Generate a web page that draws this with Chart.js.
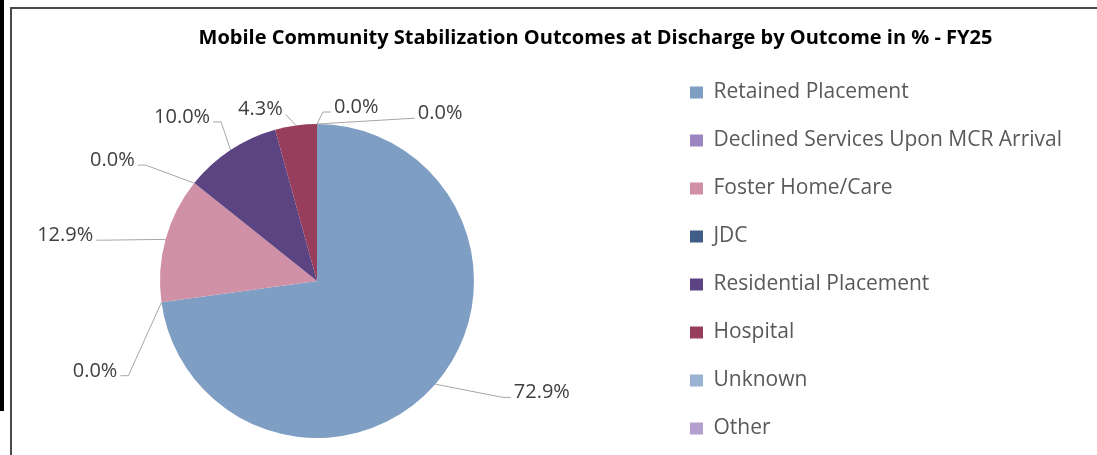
<!DOCTYPE html>
<html>
<head>
<meta charset="utf-8">
<script src="https://cdn.jsdelivr.net/npm/chart.js@4.4.1/dist/chart.umd.min.js"></script>
<style>
  html, body { margin: 0; padding: 0; background: #fff; overflow: hidden; }
  body { width: 1097px; height: 455px; position: relative; }
  #bar { position: absolute; left: 0; top: 0; width: 4px; height: 411px; background: #000; }
  #frame { position: absolute; left: 10px; top: 7px; width: 1200px; height: 500px;
           border-top: 2px solid #4a4a4a; border-left: 2px solid #4a4a4a; }
  #outcomeChart { position: absolute; left: 12px; top: 10px; }
</style>
</head>
<body>
<div id="bar"></div>
<div id="frame"></div>
<canvas id="outcomeChart" width="1200" height="480"></canvas>
<script>
// FY25 discharge outcomes, percent of episodes
const categories = [
    'Retained Placement',
    'Declined Services Upon MCR Arrival',
    'Foster Home/Care',
    'JDC',
    'Residential Placement',
    'Hospital',
    'Unknown',
    'Other'
];
const percentValues = [72.9, 0.0, 12.9, 0.0, 10.0, 4.3, 0.0, 0.0];
const sliceColors = ['#7f9ec3', '#9c86c2', '#d091a6', '#3f5d87', '#5c4482', '#973e5c', '#9ab2d2', '#b3a0cf'];

// where each leader line ends: angle nudge (deg) from the slice middle, distance in radii
const labelPlacement = [
    { shift: -10.1, dist: 1.44 },
    { shift: -17.9, dist: 1.39 },
    { shift: -4.9, dist: 1.43 },
    { shift: -5.7, dist: 1.36 },
    { shift: 0.3, dist: 1.21 },
    { shift: -2.9, dist: 1.08, elbow: 0 },
    { shift: 4.7, dist: 1.08 },
    { shift: 31, dist: 1.21, elbow: 0 }
];

// keep the pie in the left part of the frame, legend on the right
const pieArea = {
    id: 'pieArea',
    afterLayout(chart, args, opts) {
        const a = chart.chartArea;
        a.left = opts.left;
        a.top = opts.top;
        a.right = opts.left + opts.size;
        a.bottom = opts.top + opts.size;
        a.width = opts.size;
        a.height = opts.size;
    }
};

const leaderLabels = {
    id: 'leaderLabels',
    afterDatasetsDraw(chart, args, opts) {
        const ctx = chart.ctx;
        const arcs = chart.getDatasetMeta(0).data;
        ctx.save();
        ctx.font = opts.font;
        ctx.lineWidth = 1;
        ctx.strokeStyle = opts.lineColor;
        ctx.fillStyle = opts.color;
        arcs.forEach((arc, i) => {
            const { x, y, startAngle, endAngle, outerRadius } =
                arc.getProps(['x', 'y', 'startAngle', 'endAngle', 'outerRadius'], true);
            const mid = (startAngle + endAngle) / 2;
            const p = labelPlacement[i];
            const ang = mid + p.shift * Math.PI / 180;
            const ax = x + Math.cos(mid) * outerRadius;
            const ay = y + Math.sin(mid) * outerRadius;
            const ex = x + Math.cos(ang) * outerRadius * p.dist;
            const ey = y + Math.sin(ang) * outerRadius * p.dist;
            const right = ex >= x;
            const elbow = p.elbow !== undefined ? p.elbow : opts.elbow;
            const bx = right ? ex - elbow : ex + elbow;

            ctx.beginPath();
            ctx.moveTo(ax, ay);
            ctx.lineTo(bx, ey);
            ctx.lineTo(ex, ey);
            ctx.stroke();

            ctx.textAlign = right ? 'left' : 'right';
            ctx.textBaseline = 'alphabetic';
            ctx.fillText(percentValues[i].toFixed(1) + '%', right ? ex + 3 : ex - 3, ey + 1);
        });
        ctx.restore();
    }
};

const ctx = document.getElementById('outcomeChart').getContext('2d');

new Chart(ctx, {
    type: 'pie',
    data: {
        labels: categories,
        datasets: [{
            data: percentValues,
            backgroundColor: sliceColors,
            borderWidth: 0
        }]
    },
    options: {
        responsive: false,
        animation: false,
        layout: {
            padding: { left: 107, right: 140, top: 0, bottom: 0 }
        },
        plugins: {
            title: {
                display: true,
                text: 'Mobile Community Stabilization Outcomes at Discharge by Outcome in % - FY25',
                color: '#000',
                font: { family: 'Open Sans', size: 20, weight: 'bold' },
                padding: { top: 16, bottom: 5 }
            },
            legend: {
                position: 'right',
                align: 'start',
                fullSize: false,
                labels: {
                    boxWidth: 13,
                    boxHeight: 12,
                    padding: 27,
                    color: '#595959',
                    font: { family: 'Open Sans', size: 21 }
                }
            },
            tooltip: { enabled: false },
            pieArea: { left: 148, top: 114, size: 314 },
            leaderLabels: {
                font: '20px "Open Sans"',
                color: '#404040',
                lineColor: '#a6a6a6',
                elbow: 8
            }
        }
    },
    plugins: [pieArea, leaderLabels]
});
</script>
</body>
</html>
